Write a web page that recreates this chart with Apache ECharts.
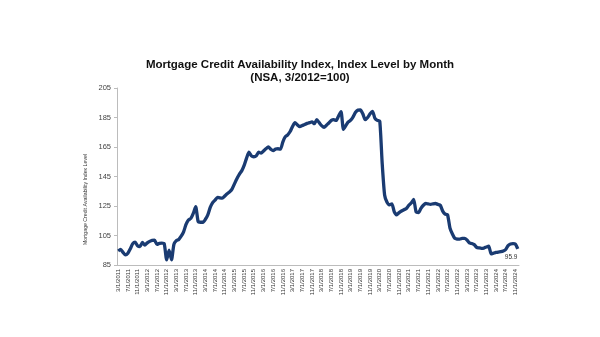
<!DOCTYPE html>
<html>
<head>
<meta charset="utf-8">
<script src="https://cdn.jsdelivr.net/npm/echarts@6/dist/echarts.min.js"></script>
<style>
  html, body { margin: 0; padding: 0; background: #fff; }
  #chart { width: 600px; height: 337px; }
</style>
</head>
<body>
<div id="chart"></div>
<script>
// Monthly MCAI series, March 2011 through December 2024 (NSA, 3/2012 = 100)
const startYear = 2011;
const startMonth = 3;

const mcai2011 = [94.5, 95.5, 93.5, 91.8, 93, 96, 99.5, 100.5, 98, 97.5];
const mcai2012 = [100.3, 98.5, 100, 101, 101.7, 101.8, 99, 99.6, 99.8, 99.5, 88.5, 95];
const mcai2013 = [88.5, 99, 101.5, 102.3, 104.5, 107.5, 112.5, 115.5, 116.6, 120, 124.5, 114.5];
const mcai2014 = [114, 114, 116, 119, 124, 127.3, 129, 130.9, 130.5, 130.3, 131.8, 133.3];
const mcai2015 = [134.6, 136.5, 140, 143.5, 146.5, 148.8, 152.5, 157.5, 161.5, 159, 158.4, 159];
const mcai2016 = [161.5, 160.8, 162.3, 163.8, 165, 163.5, 162.5, 163.6, 163.8, 163.5, 168.5, 172];
const mcai2017 = [173.3, 175.5, 179, 181.5, 180, 178.8, 179.5, 180.3, 181, 181.5, 182, 180.8];
const mcai2018 = [183.5, 181.5, 179.5, 178.3, 179.8, 181.3, 183, 183.5, 183, 186, 189, 177];
const mcai2019 = [179.5, 182, 183.2, 185.5, 188.5, 190, 190.1, 187.5, 183.5, 185, 187.5, 189.2];
const mcai2020 = [184.5, 183, 182.5, 154, 132.5, 127.5, 125.8, 126.5, 121, 119, 120.5, 121.6];
const mcai2021 = [122.5, 123.3, 125.5, 127, 129.5, 121, 120.5, 123.4, 125.5, 126.8, 126.4, 126.1];
const mcai2022 = [126.5, 126.7, 126.1, 125.5, 121.5, 119.5, 119, 110, 106, 103, 102.6, 102.5];
const mcai2023 = [103, 103, 102, 100, 99.6, 98.8, 97, 96.6, 96.3, 96.5, 97.2, 97.8];
const mcai2024 = [92.5, 93, 93.5, 93.8, 94, 94.5, 95.5, 98.2, 99.2, 99.5, 99.2, 95.9];

const mcaiValues = [].concat(
  mcai2011, mcai2012, mcai2013, mcai2014, mcai2015, mcai2016, mcai2017,
  mcai2018, mcai2019, mcai2020, mcai2021, mcai2022, mcai2023, mcai2024
);

// Month-start dates written as M/1/YYYY
const months = [];
for (let i = 0; i < mcaiValues.length; i++) {
  const m0 = startMonth - 1 + i;
  months.push((m0 % 12 + 1) + '/1/' + (startYear + Math.floor(m0 / 12)));
}

const yTicks = [85, 105, 125, 145, 165, 185, 205];

const FONT = '"Liberation Sans", Arial, sans-serif';
const LINE_COLOR = '#1a3b72';

const chart = echarts.init(document.getElementById('chart'), null, { renderer: 'canvas' });

chart.setOption({
  backgroundColor: '#ffffff',
  animation: false,
  title: {
    text: 'Mortgage Credit Availability Index, Index Level by Month\n(NSA, 3/2012=100)',
    left: 'center',
    top: 53,
    textStyle: {
      fontFamily: FONT,
      fontSize: 11.5,
      fontWeight: 'bold',
      color: '#111',
      lineHeight: 13,
      align: 'center'
    }
  },
  grid: { left: 117, right: 81, top: 88, bottom: 72 },
  xAxis: {
    type: 'category',
    data: months,
    boundaryGap: true,
    axisLine: { lineStyle: { color: '#bcbcbc', width: 1 } },
    axisTick: { interval: 3, alignWithLabel: true, length: 3, lineStyle: { color: '#bcbcbc' } },
    axisLabel: {
      interval: 3,
      rotate: 90,
      fontFamily: FONT,
      fontSize: 6,
      color: '#333',
      margin: 4
    }
  },
  yAxis: {
    type: 'value',
    min: 85,
    max: 205,
    name: 'Mortgage Credit Availability Index Level',
    nameLocation: 'middle',
    nameRotate: 90,
    nameGap: 24,
    nameTextStyle: { fontFamily: FONT, fontSize: 5.2, color: '#333', padding: [0, 46, 0, 0] },
    axisLine: { show: true, lineStyle: { color: '#bcbcbc', width: 1 } },
    axisTick: { show: true, length: 3, customValues: yTicks, lineStyle: { color: '#bcbcbc' } },
    axisLabel: {
      customValues: yTicks,
      fontFamily: FONT,
      fontSize: 7.5,
      color: '#444',
      margin: 6
    },
    splitLine: { show: false }
  },
  series: [{
    type: 'line',
    data: mcaiValues,
    smooth: 0.2,
    showSymbol: false,
    lineStyle: { color: LINE_COLOR, width: 3.3 },
    // latest value printed just under the end of the line
    endLabel: {
      show: true,
      offset: [-21, 8],
      fontFamily: FONT,
      fontSize: 6.5,
      color: '#333',
      formatter: p => Number(p.value).toFixed(1)
    }
  }]
});
</script>
</body>
</html>
